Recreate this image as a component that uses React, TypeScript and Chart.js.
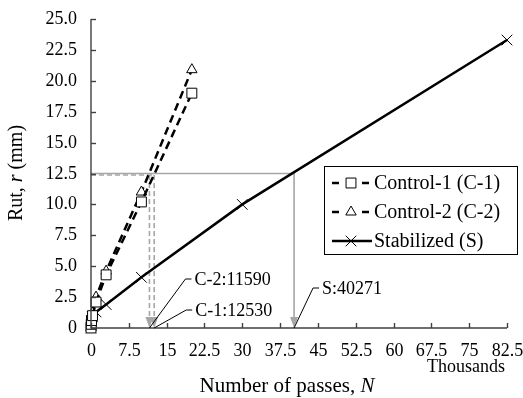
import React, { useEffect, useRef } from 'react';
import { Chart, registerables } from 'chart.js';

Chart.register(...registerables);

// ---- data (passes in thousands, rut in mm) ----
const seriesNames = ['Control-1 (C-1)', 'Control-2 (C-2)', 'Stabilized (S)'];
const c1Passes = [0, 0.05, 0.1, 0.3, 1, 3, 10, 20];
const c1Rut = [0, 0.3, 0.6, 1.0, 2.1, 4.3, 10.2, 19.0];
const c2Passes = [0, 0.05, 0.1, 0.3, 1, 3, 10, 20];
const c2Rut = [0, 0.4, 0.8, 1.2, 2.5, 4.6, 11.0, 20.9];
const sPasses = [0, 0.05, 0.1, 0.3, 1, 3, 10, 30, 82.5];
const sRut = [0, 0.3, 0.6, 0.9, 1.3, 1.9, 4.1, 10.0, 23.3];
const xTickValues = [0, 7.5, 15, 22.5, 30, 37.5, 45, 52.5, 60, 67.5, 75, 82.5];
const yTickValues = [0, 2.5, 5, 7.5, 10, 12.5, 15, 17.5, 20, 22.5, 25];
const targetRut = 12.5;
const designNames = ['C-2', 'C-1', 'S'];
const designPasses = [11.59, 12.53, 40.271];

const FONT = '"Liberation Serif", "Times New Roman", serif';
const GRAY = '#a6a6a6';
const AXIS = '#404040';

function drawParts(ctx: CanvasRenderingContext2D, parts: [string, boolean][], x: number, y: number, size: number, align: 'left' | 'center' | 'right') {
  let total = 0;
  const widths = parts.map(([t, it]) => {
    ctx.font = `${it ? 'italic ' : ''}${size}px ${FONT}`;
    const w = ctx.measureText(t).width;
    total += w;
    return w;
  });
  let cx = align === 'left' ? x : align === 'center' ? x - total / 2 : x - total;
  ctx.textAlign = 'left';
  ctx.textBaseline = 'middle';
  parts.forEach(([t, it], i) => {
    ctx.font = `${it ? 'italic ' : ''}${size}px ${FONT}`;
    ctx.fillText(t, cx, y);
    cx += widths[i];
  });
}

function drawMarker(ctx: CanvasRenderingContext2D, style: string, x: number, y: number, r: number) {
  ctx.beginPath();
  if (style === 'rect') {
    const s = Math.SQRT1_2 * r;
    ctx.rect(x - s, y - s, 2 * s, 2 * s);
    ctx.fill(); ctx.stroke();
  } else if (style === 'triangle') {
    ctx.moveTo(x, y - r);
    ctx.lineTo(x + r * Math.sin(2 * Math.PI / 3), y - r * Math.cos(2 * Math.PI / 3));
    ctx.lineTo(x + r * Math.sin(4 * Math.PI / 3), y - r * Math.cos(4 * Math.PI / 3));
    ctx.closePath();
    ctx.fill(); ctx.stroke();
  } else {
    const s = Math.SQRT1_2 * r;
    ctx.moveTo(x - s, y - s); ctx.lineTo(x + s, y + s);
    ctx.moveTo(x - s, y + s); ctx.lineTo(x + s, y - s);
    ctx.stroke();
  }
}

const fmtY = (v: number) => (v === 0 ? '0' : v.toFixed(1));
const fmtX = (v: number) => String(v);

const refPlugin = {
  id: 'refLines',
  beforeDatasetsDraw(chart: any) {
    const { ctx, scales } = chart;
    const xs = scales.x, ys = scales.y;
    const yT = ys.getPixelForValue(targetRut);
    const y0 = ys.getPixelForValue(0);
    const x0 = xs.getPixelForValue(0);
    ctx.save();
    ctx.strokeStyle = GRAY;
    ctx.fillStyle = GRAY;
    ctx.lineWidth = 1.6;
    const xS = xs.getPixelForValue(designPasses[2]);
    ctx.setLineDash([]);
    ctx.beginPath(); ctx.moveTo(x0, yT); ctx.lineTo(xS, yT); ctx.lineTo(xS, y0 - 10); ctx.stroke();
    const xC1 = xs.getPixelForValue(designPasses[1]);
    const xC2 = xs.getPixelForValue(designPasses[0]);
    ctx.setLineDash([5, 3]);
    ctx.beginPath(); ctx.moveTo(x0, yT + 1.5); ctx.lineTo(xC1, yT + 1.5); ctx.stroke();
    ctx.beginPath(); ctx.moveTo(xC1, yT + 1.5); ctx.lineTo(xC1, y0 - 10); ctx.stroke();
    ctx.beginPath(); ctx.moveTo(xC2, yT + 1.5); ctx.lineTo(xC2, y0 - 10); ctx.stroke();
    ctx.setLineDash([]);
    [xC2, xC1, xS].forEach((px) => {
      ctx.beginPath();
      ctx.moveTo(px, y0);
      ctx.lineTo(px - 4, y0 - 11);
      ctx.lineTo(px + 4, y0 - 11);
      ctx.closePath();
      ctx.fill();
    });
    ctx.restore();
  },
  afterDatasetsDraw(chart: any) {
    const { ctx, scales, chartArea } = chart;
    const xs = scales.x, ys = scales.y;
    ctx.save();
    ctx.strokeStyle = AXIS;
    ctx.lineWidth = 1.4;
    ctx.beginPath();
    ctx.moveTo(chartArea.left, chartArea.top);
    ctx.lineTo(chartArea.left, chartArea.bottom);
    ctx.lineTo(chartArea.right, chartArea.bottom);
    ctx.stroke();
    ctx.fillStyle = '#000';
    yTickValues.forEach((v) => {
      const py = Math.round(ys.getPixelForValue(v)) + 0.5;
      ctx.beginPath(); ctx.moveTo(chartArea.left, py); ctx.lineTo(chartArea.left + 5, py); ctx.stroke();
      drawParts(ctx, [[fmtY(v), false]], chartArea.left - 14, py, 18, 'right');
    });
    xTickValues.forEach((v) => {
      const px = Math.round(xs.getPixelForValue(v)) + 0.5;
      ctx.beginPath(); ctx.moveTo(px, chartArea.bottom); ctx.lineTo(px, chartArea.bottom - 5); ctx.stroke();
      drawParts(ctx, [[fmtX(v), false]], px, chartArea.bottom + 23, 18, 'center');
    });
    // leaders and labels
    const y0 = ys.getPixelForValue(0);
    const leaderDx = [36, 32, 19];
    const leaderDy = [-49, -18, -40];
    ctx.strokeStyle = '#000';
    ctx.lineWidth = 1;
    designPasses.forEach((p, i) => {
      const px = xs.getPixelForValue(p);
      const ex = px + leaderDx[i];
      const ey = y0 + leaderDy[i];
      ctx.beginPath(); ctx.moveTo(px, y0); ctx.lineTo(ex, ey); ctx.lineTo(ex + 6, ey); ctx.stroke();
      drawParts(ctx, [[`${designNames[i]}:${Math.round(p * 1000)}`, false]], ex + 9, ey + 1, 18, 'left');
    });
    ctx.restore();
  },
  afterDraw(chart: any) {
    const { ctx } = chart;
    ctx.save();
    ctx.fillStyle = '#000';
    drawParts(ctx, [['Number of passes, ', false], ['N', true]], 287, 386, 21, 'center');
    drawParts(ctx, [['Thousands', false]], 505, 367, 18, 'right');
    ctx.translate(17, 173);
    ctx.rotate(-Math.PI / 2);
    drawParts(ctx, [['Rut, ', false], ['r', true], [' (mm)', false]], 0, 0, 20, 'center');
    ctx.restore();

    // legend
    ctx.save();
    ctx.strokeStyle = '#000';
    ctx.lineWidth = 1;
    ctx.strokeRect(324.5, 166.5, 193, 88);
    const rows = [183, 212, 241];
    const styles = ['rect', 'triangle', 'crossRot'];
    rows.forEach((ry, i) => {
      ctx.strokeStyle = '#000';
      ctx.lineWidth = 2.5;
      if (i < 2) {
        ctx.beginPath(); ctx.moveTo(332, ry); ctx.lineTo(339, ry); ctx.stroke();
        ctx.beginPath(); ctx.moveTo(362, ry); ctx.lineTo(369, ry); ctx.stroke();
      } else {
        ctx.beginPath(); ctx.moveTo(332, ry); ctx.lineTo(372, ry); ctx.stroke();
      }
      ctx.lineWidth = 1;
      ctx.fillStyle = '#fff';
      const r = i === 0 ? 7 : i === 1 ? 6 : 7.5;
      drawMarker(ctx, styles[i], 351, ry, r);
      ctx.fillStyle = '#000';
      drawParts(ctx, [[seriesNames[i], false]], 374, ry + 1, 20, 'left');
    });
    ctx.restore();
  },
};

function pts(xs: number[], ys: number[]) {
  return xs.map((x, i) => ({ x, y: ys[i] }));
}

export default function App() {
  const ref = useRef<HTMLCanvasElement | null>(null);
  useEffect(() => {
    if (!ref.current) return;
    const chart = new Chart(ref.current, {
      type: 'scatter',
      data: {
        datasets: [
          {
            label: seriesNames[0], data: pts(c1Passes, c1Rut), showLine: true,
            borderColor: '#000', borderWidth: 2.5, borderDash: [8, 5],
            pointStyle: 'rect', pointRadius: 7, pointBackgroundColor: '#fff', pointBorderColor: '#000', pointBorderWidth: 1,
            clip: false,
          },
          {
            label: seriesNames[1], data: pts(c2Passes, c2Rut), showLine: true,
            borderColor: '#000', borderWidth: 2.5, borderDash: [8, 5],
            pointStyle: 'triangle', pointRadius: 6, pointBackgroundColor: '#fff', pointBorderColor: '#000', pointBorderWidth: 1,
            clip: false,
          },
          {
            label: seriesNames[2], data: pts(sPasses, sRut), showLine: true,
            borderColor: '#000', borderWidth: 2.5,
            pointStyle: 'crossRot', pointRadius: 7.5, pointBorderColor: '#000', pointBorderWidth: 1,
            clip: false,
          },
        ] as any,
      },
      options: {
        animation: false,
        responsive: false,
        events: [],
        layout: { padding: { top: 19, right: 16, left: 0, bottom: 0 } },
        plugins: { legend: { display: false }, tooltip: { enabled: false } },
        scales: {
          x: {
            type: 'linear', min: 0, max: 82.5,
            grid: { display: false }, border: { display: false },
            afterFit: (s: any) => { s.height = 70; },
            afterBuildTicks: (s: any) => { s.ticks = xTickValues.map((v) => ({ value: v })); },
            ticks: { display: false },
          },
          y: {
            type: 'linear', min: 0, max: 25,
            grid: { display: false }, border: { display: false },
            afterFit: (s: any) => { s.width = 91; },
            afterBuildTicks: (s: any) => { s.ticks = yTickValues.map((v) => ({ value: v })); },
            ticks: { display: false },
          },
        },
      } as any,
      plugins: [refPlugin],
    });
    return () => chart.destroy();
  }, []);
  return (
    <div style={{ position: 'fixed', left: 0, top: 0, width: 523, height: 398, background: '#fff' }}>
      <canvas ref={ref} width={523} height={398} style={{ display: 'block' }} />
    </div>
  );
}
